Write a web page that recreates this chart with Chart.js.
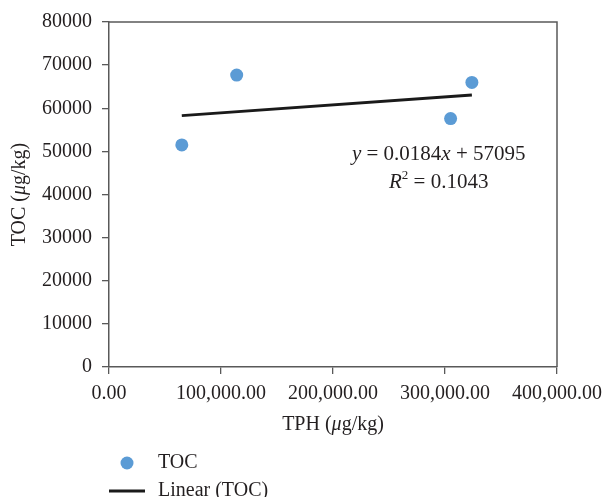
<!DOCTYPE html>
<html>
<head>
<meta charset="utf-8">
<script src="https://cdn.jsdelivr.net/npm/chart.js@4.4.0/dist/chart.umd.min.js"></script>
<style>
  html, body { margin: 0; padding: 0; background: #fff; }
  #wrap { width: 603px; height: 497px; }
</style>
</head>
<body>
<div id="wrap"><canvas id="tocChart"></canvas></div>

<script type="text/javascript">
    // data
    const tph = [65000, 114000, 305000, 324000];
    const toc = [51500, 67700, 57600, 66000];
    const trendX = [65000, 324000];
    const trendY = [58290, 63060];

    const xTicks = [0, 100000, 200000, 300000, 400000];
    const yTicks = [0, 10000, 20000, 30000, 40000, 50000, 60000, 70000, 80000];

    const seriesName = 'TOC';
    const trendName = 'Linear (TOC)';
    const eqText = [{ t: 'y', i: true }, { t: ' = 0.0184' }, { t: 'x', i: true }, { t: ' + 57095' }];
    const r2Text = [{ t: 'R', i: true }, { t: '2', sup: true }, { t: ' = 0.1043' }];
    const xTitle = [{ t: 'TPH (' }, { t: 'μ', i: true }, { t: 'g/kg)' }];
    const yTitle = [{ t: 'TOC (' }, { t: 'μ', i: true }, { t: 'g/kg)' }];

    const FONT = "'Liberation Serif', 'Times New Roman', serif";
    const FS = 20;
    const TEXT = '#231f20';
    const AXIS = '#595959';
    const BLUE = '#5b9bd5';

    function drawRuns(ctx, runs, x, y, size) {
      let total = 0;
      const parts = runs.map(r => {
        const fs = r.sup ? size * 0.62 : size;
        const font = (r.i ? 'italic ' : '') + fs + 'px ' + FONT;
        ctx.font = font;
        const w = ctx.measureText(r.t).width;
        total += w;
        return { r: r, font: font, w: w };
      });
      let cx = x - total / 2;
      ctx.textAlign = 'left';
      ctx.textBaseline = 'middle';
      parts.forEach(p => {
        ctx.font = p.font;
        ctx.fillText(p.r.t, cx, p.r.sup ? y - size * 0.33 : y);
        cx += p.w;
      });
    }

    const extras = {
      id: 'extras',
      afterDraw(chart) {
        const ctx = chart.ctx;
        const a = chart.chartArea;
        ctx.save();
        // top and right frame
        ctx.strokeStyle = AXIS;
        ctx.lineWidth = 1.5;
        ctx.beginPath();
        ctx.moveTo(a.left, a.top);
        ctx.lineTo(a.right, a.top);
        ctx.lineTo(a.right, a.bottom);
        ctx.stroke();

        ctx.fillStyle = TEXT;
        // trendline equation
        const ex = a.left + (a.right - a.left) * 0.736;
        drawRuns(ctx, eqText, ex, a.top + (a.bottom - a.top) * 0.383, 21);
        drawRuns(ctx, r2Text, ex, a.top + (a.bottom - a.top) * 0.466, 21);

        // axis titles
        drawRuns(ctx, xTitle, (a.left + a.right) / 2, a.bottom + 58, FS);
        ctx.save();
        ctx.translate(20, (a.top + a.bottom) / 2);
        ctx.rotate(-Math.PI / 2);
        drawRuns(ctx, yTitle, 0, 0, FS);
        ctx.restore();

        // legend
        const lx = a.left;
        const ly1 = a.bottom + 96;
        const ly2 = ly1 + 28;
        ctx.fillStyle = BLUE;
        ctx.beginPath();
        ctx.arc(lx + 18, ly1, 6.5, 0, Math.PI * 2);
        ctx.fill();
        ctx.strokeStyle = '#1a1a1a';
        ctx.lineWidth = 3;
        ctx.beginPath();
        ctx.moveTo(lx, ly2);
        ctx.lineTo(lx + 36, ly2);
        ctx.stroke();
        ctx.fillStyle = TEXT;
        ctx.font = FS + 'px ' + FONT;
        ctx.textAlign = 'left';
        ctx.textBaseline = 'middle';
        ctx.fillText(seriesName, lx + 49, ly1);
        ctx.fillText(trendName, lx + 49, ly2);
        ctx.restore();
      }
    };

    const ctx = document.getElementById('tocChart').getContext('2d');

    const tocChart = new Chart(ctx, {
      type: 'scatter',
      data: {
        datasets: [
          {
            label: seriesName,
            data: tph.map((x, i) => ({ x: x, y: toc[i] })),
            backgroundColor: BLUE,
            borderColor: BLUE,
            pointRadius: 6.5,
            pointHoverRadius: 6.5,
            borderWidth: 0
          },
          {
            label: trendName,
            type: 'line',
            data: trendX.map((x, i) => ({ x: x, y: trendY[i] })),
            borderColor: '#1a1a1a',
            borderWidth: 3,
            pointRadius: 0,
            fill: false
          }
        ]
      },
      options: {
        responsive: true,
        maintainAspectRatio: false,
        animation: false,
        layout: { padding: { left: 0, top: 20, right: 46, bottom: 0 } },
        plugins: {
          legend: { display: false },
          tooltip: { enabled: false }
        },
        scales: {
          x: {
            type: 'linear',
            min: 0,
            max: 400000,
            afterBuildTicks: (scale) => { scale.ticks = xTicks.map(v => ({ value: v })); },
            afterFit: (scale) => {
              scale.height = 130;
              scale.paddingLeft = 0;
              scale.paddingRight = 0;
            },
            grid: { drawOnChartArea: false, tickLength: 7, color: AXIS, lineWidth: 1.3 },
            border: { color: AXIS, width: 1.5 },
            ticks: {
              color: TEXT,
              padding: 8,
              maxRotation: 0,
              font: { family: FONT, size: FS },
              callback: (v) => Number(v).toLocaleString('en-US', { minimumFractionDigits: 2, maximumFractionDigits: 2 })
            }
          },
          y: {
            type: 'linear',
            min: 0,
            max: 80000,
            afterBuildTicks: (scale) => { scale.ticks = yTicks.map(v => ({ value: v })); },
            afterFit: (scale) => { scale.width = 109; },
            grid: { drawOnChartArea: false, tickLength: 7, color: AXIS, lineWidth: 1.3 },
            border: { color: AXIS, width: 1.5 },
            ticks: {
              color: TEXT,
              padding: 10,
              font: { family: FONT, size: FS },
              callback: (v) => String(v)
            }
          }
        }
      },
      plugins: [extras]
    });
  </script>
</body>
</html>
